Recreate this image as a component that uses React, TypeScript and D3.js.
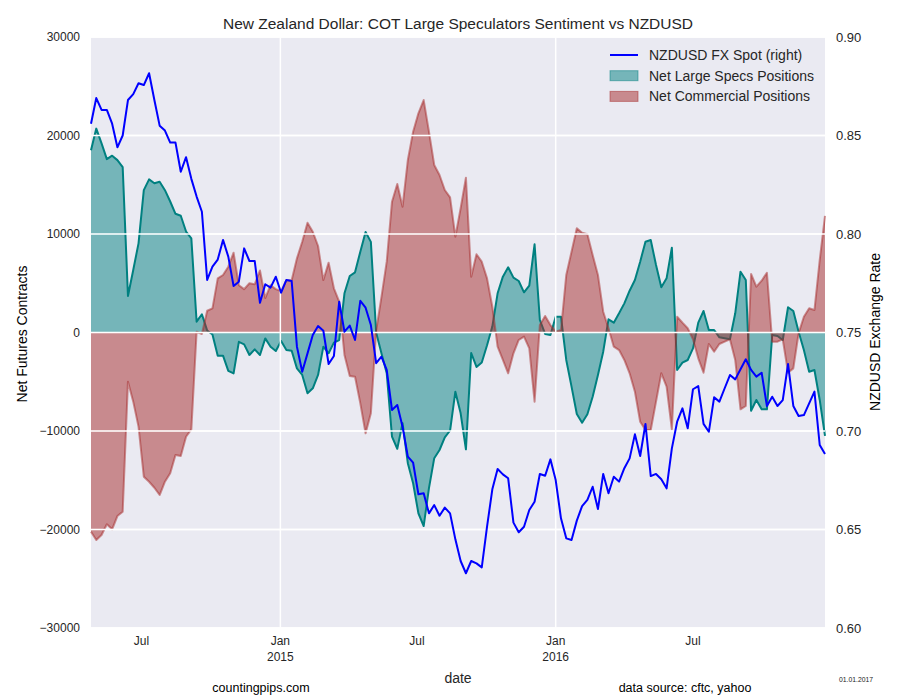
import React from 'react';
import * as d3 from 'd3';

// weekly COT release dates start here (Fridays)
const START = new Date(2014, 3, 25);

const fxSpot = [
  0.856, 0.869, 0.863, 0.863, 0.856, 0.844, 0.85, 0.868, 0.871, 0.8765,
  0.8756, 0.8816, 0.868, 0.855, 0.8525, 0.8464, 0.8464, 0.8316, 0.839, 0.828,
  0.819, 0.8113, 0.7767, 0.7834, 0.787, 0.797, 0.7885, 0.7736, 0.7758, 0.7927,
  0.7863, 0.7863, 0.7651, 0.7745, 0.7728, 0.7783, 0.7702, 0.7767, 0.7761, 0.7428,
  0.7301, 0.7394, 0.7487, 0.7533, 0.7509, 0.734, 0.7381, 0.7656, 0.7504, 0.7535,
  0.7462, 0.7661, 0.7626, 0.7538, 0.7344, 0.7377, 0.731, 0.7107, 0.7132, 0.7022,
  0.687, 0.6839, 0.6679, 0.6684, 0.6582, 0.6624, 0.657, 0.6611, 0.6582, 0.645,
  0.634, 0.6278, 0.634, 0.6328, 0.6308, 0.6514, 0.6704, 0.6807, 0.678, 0.676,
  0.6535, 0.6486, 0.6514, 0.6599, 0.6641, 0.6782, 0.6773, 0.6856, 0.6751, 0.6557,
  0.6455, 0.6447, 0.6545, 0.6619, 0.665, 0.6717, 0.6604, 0.6782, 0.6684, 0.6768,
  0.6743, 0.6811, 0.6861, 0.6983, 0.6873, 0.7036, 0.6771, 0.6782, 0.6755, 0.6709,
  0.6912, 0.7047, 0.7115, 0.7014, 0.7212, 0.7228, 0.7036, 0.6996, 0.7171, 0.7149,
  0.7217, 0.7284, 0.7262, 0.7313, 0.7364, 0.731, 0.7276, 0.7296, 0.7127, 0.7174,
  0.7127, 0.7157, 0.734, 0.7127, 0.7076, 0.7081, 0.714, 0.72, 0.6929, 0.6883,
];

const largeSpecs = [
  18500, 20700, 19200, 17600, 17950, 17500, 16800, 3700, 6350, 9050,
  14450, 15550, 15150, 15300, 14450, 13300, 12050, 11850, 10250, 9550,
  1100, 1850, 200, -200, -2350, -2350, -3900, -4150, -950, -1200,
  -2280, -1710, -2280, -600, -1440, -1880, -860, -1780, -1850, -3640,
  -4310, -6170, -5670, -4310, -1440, -2110, -1030, -760, 3980, 5740,
  6110, 8200, 10200, 9200, 0, -2110, -4140, -10580, -11800, -9200,
  -13270, -15300, -18350, -19650, -15800, -12760, -11930, -10650, -9950, -6010,
  -8200, -11860, -2080, -3500, -3050, -1300, 600, 3980, 5670, 6620,
  5570, 5230, 4080, 4770, 8950, 1270, -150, -250, 1600, 1600,
  -2790, -5500, -8270, -9160, -8300, -6520, -4310, -1950, 1340, 1000,
  1950, 2960, 4240, 5330, 7190, 9220, 9390, 6850, 4590, 5500,
  8610, -3810, -3060, -2790, -1610, 1000, 2180, 250, 250, -490,
  -590, -690, 1950, 6170, 5330, -7940, -6850, -7800, -7800, -250,
  -360, -760, 2560, 2180, 80, -1780, -3980, -3810, -6850, -10500,
];

const commercial = [
  -20220, -21070, -20560, -19470, -19980, -18630, -18190, -4990, -7020, -9560,
  -14640, -15150, -15760, -16500, -15150, -14290, -12440, -12540, -10580, -9830,
  80, -150, 2210, 2450, 5500, 5840, 6680, 8100, 4800, 4400,
  5000, 4900, 6300, 3500, 4800, 4400, 4200, 5300, 5300, 7530,
  9220, 11150, 10230, 8780, 5330, 7090, 4490, 3130, -2280, -4420,
  -4490, -7190, -10230, -8200, 200, 3600, 7190, 13280, 15080, 12770,
  17510, 20390, 22250, 23600, 20390, 17010, 15990, 14470, 13720, 9730,
  12610, 15720, 5670, 7940, 7190, 5500, 2620, -1440, -2790, -4140,
  -2110, -760, -420, -1610, -7020, 760, 1680, 760, 80, 250,
  5840, 8200, 10580, 10130, 9970, 7870, 5840, 2110, 430, -1440,
  -1780, -2790, -4140, -6010, -9060, -9900, -9900, -7020, -4140, -5500,
  -9830, 1600, 1000, 430, -690, -2620, -4080, -1170, -1950, -1170,
  -930, -690, -2790, -7800, -7460, 5940, 4650, 5260, 6070, -930,
  -930, -690, -4080, -3640, -80, 1600, 2460, 2280, 7360, 11830,
];

const leftTicks = [-30000, -20000, -10000, 0, 10000, 20000, 30000];
const rightTicks = [0.6, 0.65, 0.7, 0.75, 0.8, 0.85, 0.9];
const majorTicks = [new Date(2015, 0, 1), new Date(2016, 0, 1)];
const minorTicks = [new Date(2014, 6, 1), new Date(2015, 6, 1), new Date(2016, 6, 1)];

const legendItems = [
  { label: 'NZDUSD FX Spot (right)', kind: 'line', color: '#0000ff' },
  { label: 'Net Large Specs Positions', kind: 'patch', color: 'teal' },
  { label: 'Net Commercial Positions', kind: 'patch', color: 'brown' },
];

const FONT = '"Liberation Sans", Arial, Helvetica, sans-serif';
const TXT = '#262626';

export default function App() {
  const W = 900;
  const H = 700;
  const left = 91, right = 825, top = 37, bottom = 628;

  const dates = fxSpot.map((_, i) => d3.timeDay.offset(START, 7 * i));

  const x = d3.scaleTime()
    .domain([dates[0], dates[dates.length - 1]])
    .range([left, right]);
  const yL = d3.scaleLinear().domain([-30000, 30000]).range([bottom, top]);
  const yR = d3.scaleLinear().domain([0.6, 0.9]).range([bottom, top]);

  const area = d3.area<number>()
    .x((_, i) => x(dates[i]))
    .y0(yL(0))
    .y1(d => yL(d));
  const posLine = d3.line<number>()
    .x((_, i) => x(dates[i]))
    .y(d => yL(d));
  const fxLine = d3.line<number>()
    .x((_, i) => x(dates[i]))
    .y(d => yR(d));

  const fmtL = (v: number) => (v < 0 ? '\u2212' + Math.abs(v) : String(v));

  // grid of the twin (right) axis sits above the filled areas
  const grid = (
    <g>
      {rightTicks.map(t => (
        <line key={t} x1={left} x2={right} y1={yR(t)} y2={yR(t)} stroke="#fff" strokeWidth={1.5} />
      ))}
      {majorTicks.map(t => (
        <line key={t.getTime()} x1={x(t)} x2={x(t)} y1={top} y2={bottom} stroke="#fff" strokeWidth={1.5} />
      ))}
    </g>
  );

  return (
    <div style={{ position: 'absolute', left: 0, top: 0 }}>
      <svg width={W} height={H} style={{ display: 'block', fontFamily: FONT }}>
        <rect x={0} y={0} width={W} height={H} fill="#fff" />
        <rect x={left} y={top} width={right - left} height={bottom - top} fill="#eaeaf2" />

        {/* left axis grid */}
        {leftTicks.map(t => (
          <line key={t} x1={left} x2={right} y1={yL(t)} y2={yL(t)} stroke="#fff" strokeWidth={1.5} />
        ))}

        {/* positions */}
        <path d={area(largeSpecs) ?? ''} fill="teal" fillOpacity={0.5} />
        <path d={posLine(largeSpecs) ?? ''} fill="none" stroke="teal" strokeWidth={2} strokeLinejoin="round" />
        <path d={area(commercial) ?? ''} fill="brown" fillOpacity={0.5} />
        <path d={posLine(commercial) ?? ''} fill="none" stroke="brown" strokeOpacity={0.5} strokeWidth={2} strokeLinejoin="round" />

        {grid}

        {/* fx spot on the right axis */}
        <path d={fxLine(fxSpot) ?? ''} fill="none" stroke="#0000ff" strokeWidth={2} strokeLinejoin="round" />

        {/* left tick labels */}
        {leftTicks.map(t => (
          <text key={t} x={80} y={yL(t)} dy="0.35em" textAnchor="end" fontSize={12} fill={TXT}>
            {fmtL(t)}
          </text>
        ))}
        {/* right tick labels */}
        {rightTicks.map(t => (
          <text key={t} x={836} y={yR(t)} dy="0.36em" textAnchor="start" fontSize={13} fill={TXT}>
            {t.toFixed(2)}
          </text>
        ))}
        {/* x tick labels */}
        {minorTicks.map(t => (
          <text key={t.getTime()} x={x(t)} y={645} textAnchor="middle" fontSize={12} fill={TXT}>
            {d3.timeFormat('%b')(t)}
          </text>
        ))}
        {majorTicks.map(t => (
          <text key={t.getTime()} x={x(t)} y={645} textAnchor="middle" fontSize={12} fill={TXT}>
            <tspan x={x(t)}>{d3.timeFormat('%b')(t)}</tspan>
            <tspan x={x(t)} dy={16}>{d3.timeFormat('%Y')(t)}</tspan>
          </text>
        ))}

        {/* axis labels */}
        <text transform="translate(27,334) rotate(-90)" textAnchor="middle" fontSize={14} fill="#000">
          Net Futures Contracts
        </text>
        <text transform="translate(880,332) rotate(-90)" textAnchor="middle" fontSize={14} fill="#000">
          NZDUSD Exchange Rate
        </text>
        <text x={458} y={683} textAnchor="middle" fontSize={14} fill={TXT}>date</text>

        {/* title */}
        <text x={458} y={29} textAnchor="middle" fontSize={15.5} fill={TXT}>
          New Zealand Dollar: COT Large Speculators Sentiment vs NZDUSD
        </text>

        {/* legend */}
        {legendItems.map((it, i) => {
          const cy = 55 + i * 20.7;
          return (
            <g key={it.label}>
              {it.kind === 'line' ? (
                <line x1={610} x2={638} y1={cy} y2={cy} stroke={it.color} strokeWidth={2} />
              ) : (
                <rect x={610} y={cy - 5} width={28} height={10} fill={it.color} fillOpacity={0.5}
                  stroke={it.color} strokeOpacity={0.5} strokeWidth={1} />
              )}
              <text x={649} y={cy + 5} fontSize={14} fill={TXT}>{it.label}</text>
            </g>
          );
        })}

        {/* footer */}
        <text x={261} y={692} textAnchor="middle" fontSize={12.5} fill="#000">countingpips.com</text>
        <text x={685} y={692} textAnchor="middle" fontSize={12.5} fill="#000">data source: cftc, yahoo</text>
        <text x={839} y={682} fontSize={8} fill="#222" textLength={34} lengthAdjust="spacingAndGlyphs">01.01.2017</text>
      </svg>
    </div>
  );
}
